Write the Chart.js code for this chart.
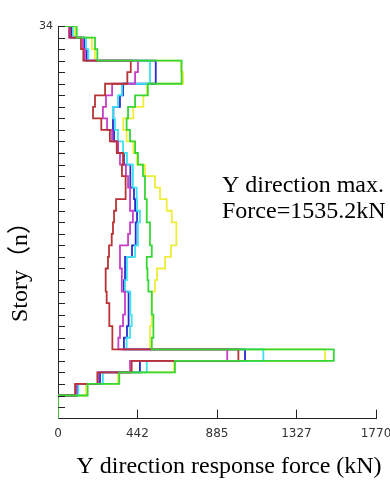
<!DOCTYPE html>
<html>
<head>
<meta charset="utf-8">
<script src="https://cdn.jsdelivr.net/npm/chart.js@4.4.0/dist/chart.umd.min.js"></script>
<style>
  html, body { margin: 0; padding: 0; background: #fff; }
  #wrap { position: relative; width: 390px; height: 481px; }
</style>
</head>
<body>
<div id="wrap"><canvas id="c" width="390" height="481"></canvas></div>
<script>
// story numbers, bottom to top
const stories = [1,2,3,4,5,6,7,8,9,10,11,12,13,14,15,16,17,18,19,20,21,22,23,24,25,26,27,28,29,30,31,32,33,34];
const xTickValues = [0, 442, 885, 1327, 1770];

// response force per story (kN)
const redForce     = [0,0,95,219,410,1004,306,301,289,284,271,262,267,278,284,299,306,312,323,373,378,356,362,327,289,241,195,206,262,386,405,141,128,67];
const magentaForce = [0,0,100,223,401,942,336,345,362,373,373,356,355,345,345,390,401,417,401,401,390,378,345,334,301,273,250,267,301,429,445,150,139,61];
const blueForce    = [0,0,106,234,456,1041,367,384,395,395,390,367,373,373,412,429,434,440,429,423,406,401,367,334,312,306,308,345,362,544,544,160,146,76];
const cyanForce    = [0,0,113,250,494,1143,382,401,410,406,401,373,382,384,429,445,445,456,440,438,417,417,384,362,334,317,306,334,356,512,512,169,156,83];
const yellowForce  = [0,0,156,334,646,1486,512,512,518,523,523,540,551,596,629,657,660,633,605,568,540,484,440,420,382,363,419,475,495,696,685,206,188,95];
const greenForce   = [0,0,165,341,651,1535.2,522,531,531,522,522,503,498,494,522,512,512,494,494,484,484,473,445,429,401,382,390,429,500,688,688,219,206,104];

// first one is drawn on top
const series = [
  {name: 'green',   color: '#36d636', values: greenForce},
  {name: 'red',     color: '#b83434', values: redForce},
  {name: 'magenta', color: '#c83ec8', values: magentaForce},
  {name: 'cyan',    color: '#3ee2ee', values: cyanForce},
  {name: 'blue',    color: '#2a2ad0', values: blueForce},
  {name: 'yellow',  color: '#eeee3a', values: yellowForce}
];

// each story: a vertical run at its force, joined by horizontals at the floor levels
function stepPoints(values){
  const pts = [{x: 0, y: 0}];
  values.forEach((v, i) => {
    pts.push({x: v, y: stories[i] - 1});
    pts.push({x: v, y: stories[i]});
  });
  pts.push({x: 0, y: stories[stories.length - 1]});
  return pts;
}

const decor = {
  id: 'decor',
  afterDraw(chart){
    const {ctx, chartArea: a, scales: {x, y}} = chart;
    ctx.save();
    ctx.strokeStyle = '#222';
    ctx.lineWidth = 1;
    ctx.beginPath();
    stories.forEach(s => {
      const py = Math.round(y.getPixelForValue(s)) + 0.5;
      ctx.moveTo(a.left, py); ctx.lineTo(a.left + 7, py);
    });
    xTickValues.slice(1).forEach(v => {
      const px = Math.round(x.getPixelForValue(v)) + 0.5;
      ctx.moveTo(px, a.bottom); ctx.lineTo(px, a.bottom - 9);
    });
    ctx.stroke();

    ctx.fillStyle = '#333';
    ctx.font = '11px "DejaVu Sans"';
    ctx.textAlign = 'right';
    ctx.textBaseline = 'middle';
    ctx.fillText(String(stories[stories.length - 1]), a.left - 5, y.getPixelForValue(34));

    ctx.fillStyle = '#000';
    ctx.font = '24px "Liberation Serif", "Noto Sans CJK SC"';
    ctx.textAlign = 'left';
    ctx.fillText('Y direction max.', 222, 186);
    ctx.fillText('Force=1535.2kN', 222, 212);

    ctx.textAlign = 'center';
    ctx.fillText('Y direction response force (kN)', 229, 467);

    ctx.translate(21, 266);
    ctx.rotate(-Math.PI / 2);
    ctx.fillText('Story（n）', 0, 0);
    ctx.restore();
  }
};

new Chart(document.getElementById('c'), {
  type: 'scatter',
  data: {
    datasets: series.map(s => ({
      label: s.name,
      data: stepPoints(s.values),
      showLine: true,
      borderColor: s.color,
      borderWidth: 1.8,
      pointRadius: 0,
      tension: 0
    }))
  },
  options: {
    responsive: false,
    animation: false,
    layout: {padding: {left: 58, right: 14, top: 26, bottom: 32}},
    plugins: {legend: {display: false}, tooltip: {enabled: false}},
    scales: {
      x: {
        type: 'linear',
        min: 0, max: 1770,
        afterBuildTicks: scale => { scale.ticks = xTickValues.map(v => ({value: v})); },
        // let the last label hang off the edge like the original
        afterFit: scale => { scale.paddingRight = 0; scale.paddingLeft = 0; },
        ticks: {
          callback: v => String(v),
          autoSkip: false, maxRotation: 0,
          padding: 8,
          color: '#333',
          font: {family: 'DejaVu Sans', size: 12}
        },
        grid: {display: false, drawTicks: false},
        border: {color: '#222', width: 1}
      },
      y: {
        type: 'linear',
        min: 0, max: 34,
        ticks: {display: false},
        grid: {display: false, drawTicks: false},
        border: {color: '#222', width: 1}
      }
    }
  },
  plugins: [decor]
});
</script>
</body>
</html>
